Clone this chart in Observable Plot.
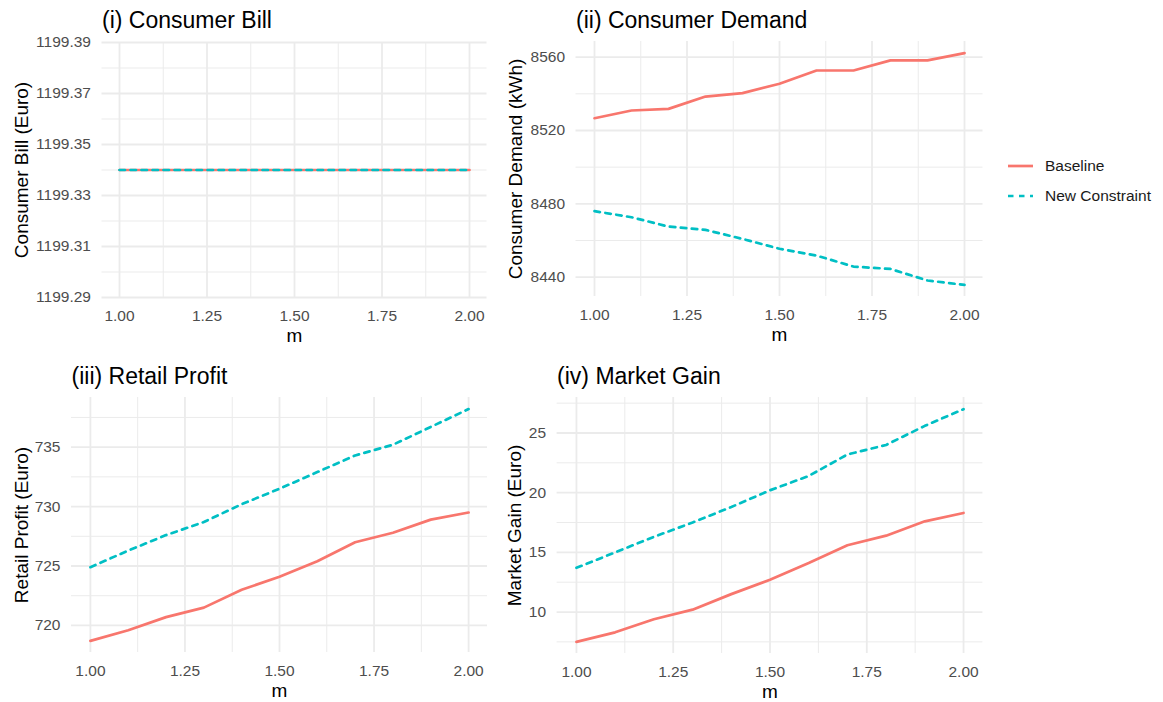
<!DOCTYPE html>
<html>
<head>
<meta charset="utf-8">
<script src="https://cdn.jsdelivr.net/npm/d3@7"></script>
<script src="https://cdn.jsdelivr.net/npm/@observablehq/plot@0.6"></script>
<style>
  html, body { margin: 0; padding: 0; background: #fff; }
  #root { position: relative; width: 1163px; height: 702px; font-family: "Liberation Sans", Arial, sans-serif; }
  .cell { position: absolute; }
  .legend { position: absolute; left: 1000px; top: 150px; font-size: 15.5px; color: #1a1a1a; }
  .legend .row { position: absolute; left: 0; height: 30px; white-space: nowrap; }
  .legend svg { position: absolute; left: 0; top: 0; }
  .legend span { position: absolute; left: 45px; top: 7px; }
</style>
</head>
<body>
<div id="root"></div>
<script>
// ---- data ----
const m = [1.0, 1.1, 1.2, 1.3, 1.4, 1.5, 1.6, 1.7, 1.8, 1.9, 2.0];
const seriesNames = ["Baseline", "New Constraint"];
const seriesColors = ["#F8766D", "#00BFC4"];

const billBaseline = [1199.34, 1199.34, 1199.34, 1199.34, 1199.34, 1199.34, 1199.34, 1199.34, 1199.34, 1199.34, 1199.34];
const billNew      = [1199.34, 1199.34, 1199.34, 1199.34, 1199.34, 1199.34, 1199.34, 1199.34, 1199.34, 1199.34, 1199.34];

const demandBaseline = [8526.7, 8530.9, 8531.8, 8538.5, 8540.4, 8545.5, 8552.7, 8552.7, 8558.2, 8558.2, 8562.2];
const demandNew      = [8476.0, 8472.7, 8467.6, 8465.8, 8460.9, 8455.5, 8451.8, 8445.8, 8444.5, 8438.2, 8435.8];

const profitBaseline = [718.7, 719.6, 720.7, 721.5, 723.0, 724.1, 725.4, 727.0, 727.8, 728.9, 729.5];
const profitNew      = [724.9, 726.3, 727.6, 728.7, 730.2, 731.5, 732.9, 734.3, 735.2, 736.7, 738.2];

const gainBaseline = [7.5, 8.3, 9.4, 10.2, 11.5, 12.7, 14.1, 15.6, 16.4, 17.6, 18.3];
const gainNew      = [13.7, 15.0, 16.3, 17.5, 18.8, 20.2, 21.4, 23.2, 24.0, 25.6, 27.0];

// tick labels
const mTicks = [1.00, 1.25, 1.50, 1.75, 2.00];
const billTicks = [1199.29, 1199.31, 1199.33, 1199.35, 1199.37, 1199.39];
const demandTicks = [8440, 8480, 8520, 8560];
const profitTicks = [720, 725, 730, 735];
const gainTicks = [10, 15, 20, 25];

const titles = ["(i) Consumer Bill", "(ii) Consumer Demand", "(iii) Retail Profit", "(iv) Market Gain"];
const yLabels = ["Consumer Bill (Euro)", "Consumer Demand (kWh)", "Retail Profit (Euro)", "Market Gain (Euro)"];
const xLabel = "m";

// ---- helpers ----
function toRows(base, alt) {
  return [
    ...m.map((x, i) => ({m: x, v: base[i], s: seriesNames[0]})),
    ...m.map((x, i) => ({m: x, v: alt[i], s: seriesNames[1]}))
  ];
}
function minors(ticks, domain) {
  const step = ticks[1] - ticks[0];
  const out = [];
  for (let i = -1; i < ticks.length; i++) {
    const t = (i < 0 ? ticks[0] - step : ticks[i]) + step / 2;
    if (t >= domain[0] && t <= domain[1]) out.push(t);
  }
  return out;
}
function expand(vals) {
  const [lo, hi] = d3.extent(vals);
  const r = hi - lo;
  return [lo - 0.05 * r, hi + 0.05 * r];
}

function panel(o) {
  const rows = toRows(o.base, o.alt);
  const xDomain = [0.95, 2.05];
  const yDomain = o.yDomain || expand([...o.base, ...o.alt]);
  const grid = "#EBEBEB";
  const chart = Plot.plot({
    width: o.width, height: o.height,
    marginLeft: o.ml, marginRight: o.mr, marginTop: o.mt, marginBottom: o.mb,
    style: {fontFamily: "Liberation Sans, Arial, sans-serif", background: "transparent", overflow: "visible"},
    x: {domain: xDomain},
    y: {domain: yDomain},
    color: {domain: seriesNames, range: seriesColors},
    marks: [
      Plot.gridX(minors(mTicks, xDomain), {stroke: grid, strokeOpacity: 1, strokeWidth: 1}),
      Plot.gridY(minors(o.yTicks, yDomain), {stroke: grid, strokeOpacity: 1, strokeWidth: 1}),
      Plot.gridX(mTicks, {stroke: grid, strokeOpacity: 1, strokeWidth: 1.8}),
      Plot.gridY(o.yTicks, {stroke: grid, strokeOpacity: 1, strokeWidth: 1.8}),
      Plot.axisX(mTicks, {tickSize: 0, tickPadding: 12, fontSize: 15.5, fill: "#4D4D4D", tickFormat: d3.format(".2f"), label: null}),
      Plot.axisY(o.yTicks, {tickSize: 0, tickPadding: 11, fontSize: 15.5, fill: "#4D4D4D", tickFormat: o.yFmt, label: null}),
      Plot.line(rows.filter(d => d.s === seriesNames[0]), {x: "m", y: "v", stroke: "s", strokeWidth: 2.7}),
      Plot.line(rows.filter(d => d.s === seriesNames[1]), {x: "m", y: "v", stroke: "s", strokeWidth: 2.7, strokeDasharray: "5.5,5.5"}),
      Plot.text([xLabel], {frameAnchor: "bottom", dy: 38, lineAnchor: "middle", fontSize: 19, fill: "#000"}),
      Plot.text([o.ylabel], {frameAnchor: "left", dx: o.ylDx, rotate: -90, lineAnchor: "middle", textAnchor: "middle", fontSize: 19, fill: "#000"}),
      Plot.text([o.title], {frameAnchor: "top-left", dy: o.titleDy, dx: o.titleDx || 0, textAnchor: "start", lineAnchor: "bottom", fontSize: 23, fill: "#000"})
    ]
  });
  const cell = document.createElement("div");
  cell.className = "cell";
  cell.style.left = o.left + "px";
  cell.style.top = o.top + "px";
  cell.appendChild(chart);
  document.getElementById("root").appendChild(cell);
}

panel({left: 0, top: 0, width: 490, height: 350, ml: 101.5, mr: 3.5, mt: 42, mb: 53,
  base: billBaseline, alt: billNew, yTicks: billTicks, yDomain: [1199.29, 1199.39], yFmt: d3.format(".2f"),
  ylabel: yLabels[0], ylDx: -80, title: titles[0], titleDy: -15});
panel({left: 490, top: 0, width: 500, height: 350, ml: 85.5, mr: 7.5, mt: 41, mb: 54,
  base: demandBaseline, alt: demandNew, yTicks: demandTicks, yFmt: d3.format("d"),
  ylabel: yLabels[1], ylDx: -60, title: titles[1], titleDy: -14});
panel({left: 0, top: 350, width: 490, height: 352, ml: 71, mr: 3, mt: 47, mb: 50,
  base: profitBaseline, alt: profitNew, yTicks: profitTicks, yFmt: d3.format("d"),
  ylabel: yLabels[2], ylDx: -50, title: titles[2], titleDy: -14});
panel({left: 490, top: 350, width: 500, height: 352, ml: 66.6, mr: 7.6, mt: 47, mb: 49,
  base: gainBaseline, alt: gainNew, yTicks: gainTicks, yFmt: d3.format("d"),
  ylabel: yLabels[3], ylDx: -42, title: titles[3], titleDy: -14});

// legend
const legend = document.createElement("div");
legend.className = "legend";
seriesNames.forEach((name, i) => {
  const row = document.createElement("div");
  row.className = "row";
  row.style.top = (i * 30) + "px";
  row.innerHTML = `<svg width="40" height="30"><line x1="8" x2="33" y1="16" y2="16" stroke="${seriesColors[i]}" stroke-width="2.7" ${i === 1 ? 'stroke-dasharray="5.5,5.5"' : ''}/></svg><span>${name}</span>`;
  legend.appendChild(row);
});
document.getElementById("root").appendChild(legend);
</script>
</body>
</html>
